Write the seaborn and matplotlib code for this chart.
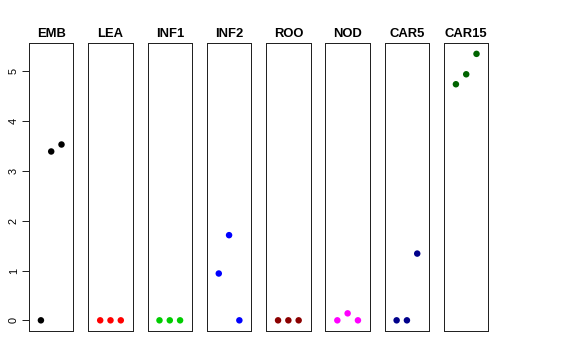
import numpy as np
import pandas as pd
import matplotlib
matplotlib.use("Agg")
import matplotlib.pyplot as plt
import seaborn as sns

# panel data: three points per tissue
tissues = ["EMB", "LEA", "INF1", "INF2", "ROO", "NOD", "CAR5", "CAR15"]
colours = ["#000000", "#FF0000", "#00CD00", "#0000FF",
           "#8B0000", "#FF00FF", "#00008B", "#006400"]
x_pos = [1, 2, 3]
emb = [0.0, 3.39, 3.53]
lea = [0.0, 0.0, 0.0]
inf1 = [0.0, 0.0, 0.0]
inf2 = [0.94, 1.71, 0.0]
roo = [0.0, 0.0, 0.0]
nod = [0.0, 0.14, 0.0]
car5 = [0.0, 0.0, 1.34]
car15 = [4.74, 4.94, 5.35]
values = [emb, lea, inf1, inf2, roo, nod, car5, car15]

rows = []
for t, v in zip(tissues, values):
    for x, y in zip(x_pos, v):
        rows.append({"tissue": t, "x": x, "y": y})
df = pd.DataFrame(rows)

sns.set_style("white")
plt.rcParams["font.family"] = ["Liberation Sans", "DejaVu Sans"]
plt.rcParams["text.color"] = "black"
plt.rcParams["ytick.color"] = "black"

fig, axes = plt.subplots(1, 8, figsize=(8, 5), dpi=72, sharey=True)
fig.subplots_adjust(left=0.0503, right=0.848, top=0.880, bottom=0.0806, wspace=0.333)

ymax = 5.35
pad = ymax * 0.04
for i, (ax, t) in enumerate(zip(axes, tissues)):
    sub = df[df["tissue"] == t]
    sns.scatterplot(data=sub, x="x", y="y", ax=ax, color=colours[i],
                    s=42, edgecolor="none", legend=False)
    ax.set_xlim(-0.16, 4.16)
    ax.set_ylim(-pad, ymax + pad)
    ax.set_xticks([])
    ax.set_xlabel("")
    ax.set_ylabel("")
    ax.set_title(t, fontsize=13, fontweight="bold", pad=6, color="black")
    for sp in ax.spines.values():
        sp.set_visible(True)
        sp.set_color("#222222")
        sp.set_linewidth(1.0)
    if i == 0:
        ax.set_yticks([0, 1, 2, 3, 4, 5])
        ax.tick_params(axis="y", left=True, length=7, width=1, color="#222222",
                       labelsize=11, labelcolor="black", pad=3)
        for lab in ax.get_yticklabels():
            lab.set_rotation(90)
            lab.set_va("center")
    else:
        ax.tick_params(axis="y", left=False)

fig.savefig("out.png", dpi=72, facecolor="white")
